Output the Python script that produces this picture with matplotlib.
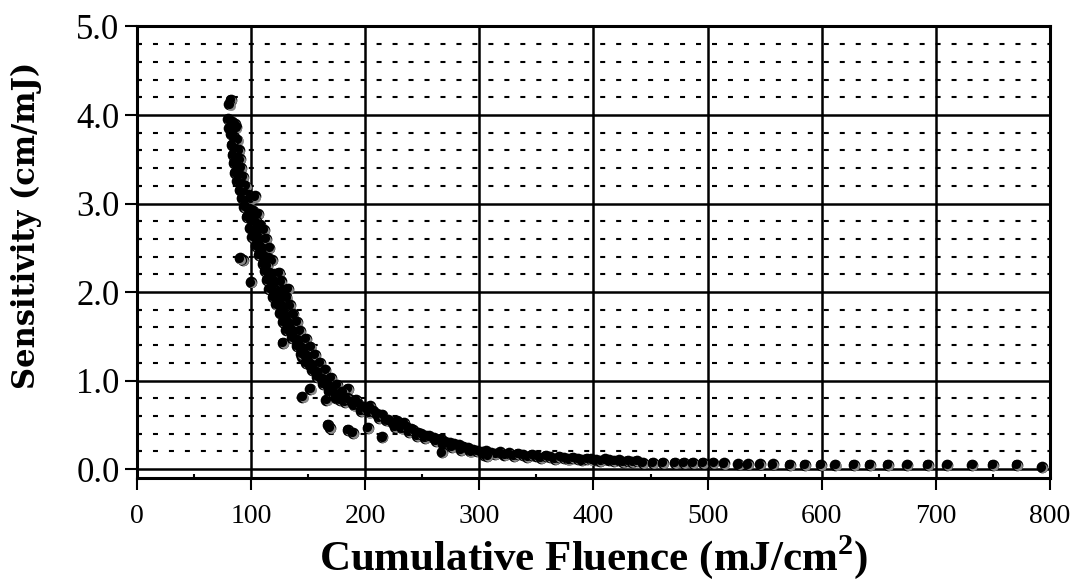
import matplotlib
matplotlib.use("Agg")
import matplotlib.pyplot as plt
from matplotlib.transforms import offset_copy
from matplotlib.ticker import MultipleLocator

# Cumulative fluence (mJ/cm^2) and sensitivity (cm/mJ)
fluence = [
    82, 81, 80, 83, 86, 81, 84, 87,
    82, 85, 88, 83, 86, 89, 84, 87, 90,
    85, 88, 91, 86, 89, 93, 88, 91, 95, 90, 93, 97,
    92, 96, 100, 103, 94, 98, 102, 106, 96, 100, 104, 108, 99, 103, 107, 111,
    101, 105, 109, 113, 104, 108, 112, 116, 93, 90, 107, 111, 115, 118, 110, 114,
    100, 112, 116, 120, 124, 114, 118, 122, 126, 116, 120, 124, 128, 132, 119, 123, 127, 131,
    122, 126, 130, 134, 125, 129, 133, 137, 128, 132, 136, 140, 131, 135, 139, 143, 128,
    136, 140, 144, 148, 140, 144, 148, 152, 145, 144, 148, 152, 156, 148, 152, 156, 160,
    153, 157, 161, 165,
    158, 162, 166, 170, 152, 145, 163, 167, 171, 175, 185, 166, 168, 172, 176, 180,
    174, 178, 182, 186, 167, 169, 185, 189,
    184, 188, 192, 190, 194, 198, 196, 200, 204, 203, 207, 210, 212, 215, 218, 202, 215,
    220, 224, 228, 226, 230, 234, 232, 236, 240, 238, 242, 246, 245, 249, 253, 252, 256, 260,
    262, 266, 270, 268, 274, 278, 276, 282, 286, 284, 290, 294, 292, 298, 302, 306, 304, 310,
    314, 318, 267, 307,
    322, 326, 330, 334, 338, 342, 346, 350, 354, 358, 362, 366, 370, 374, 378, 382, 386, 390,
    394, 398, 402, 406, 410, 414, 418, 422, 426, 430, 434, 438,
    443, 452, 461, 471, 479, 487, 496, 505, 514, 527, 535, 546, 557, 572, 585, 599, 612, 628,
    642, 658, 675, 693, 710, 732, 750, 771, 793,
]
sensitivity = [
    4.17, 4.12, 3.95, 3.92, 3.90, 3.85, 3.82, 3.86,
    3.78, 3.75, 3.72, 3.66, 3.62, 3.60, 3.55, 3.52, 3.50,
    3.46, 3.44, 3.40, 3.35, 3.32, 3.30, 3.26, 3.22, 3.20, 3.15, 3.12, 3.10,
    3.06, 3.03, 3.05, 3.08, 2.96, 2.94, 2.92, 2.88, 2.85, 2.82, 2.80, 2.76, 2.72, 2.70, 2.68, 2.70,
    2.62, 2.60, 2.58, 2.60, 2.52, 2.50, 2.48, 2.50, 2.36, 2.38, 2.42, 2.40, 2.38, 2.36, 2.32, 2.30,
    2.11, 2.24, 2.22, 2.20, 2.22, 2.14, 2.12, 2.10, 2.12, 2.04, 2.02, 2.00, 2.02, 2.04, 1.95, 1.93, 1.92, 1.94,
    1.86, 1.84, 1.82, 1.85, 1.76, 1.74, 1.72, 1.75, 1.66, 1.64, 1.62, 1.66, 1.57, 1.55, 1.53, 1.56, 1.43,
    1.48, 1.46, 1.44, 1.47, 1.39, 1.37, 1.35, 1.38, 1.27, 1.30, 1.28, 1.26, 1.29, 1.20, 1.18, 1.16, 1.20,
    1.12, 1.10, 1.08, 1.12,
    1.04, 1.02, 1.00, 1.03, 0.91, 0.82, 0.96, 0.94, 0.92, 0.95, 0.91, 0.78, 0.88, 0.86, 0.84, 0.87,
    0.80, 0.78, 0.76, 0.79, 0.50, 0.47, 0.44, 0.41,
    0.80, 0.76, 0.78, 0.72, 0.74, 0.70, 0.66, 0.68, 0.71, 0.64, 0.66, 0.62, 0.58, 0.61, 0.56, 0.47, 0.36,
    0.55, 0.52, 0.54, 0.48, 0.50, 0.52, 0.46, 0.48, 0.45, 0.42, 0.44, 0.41, 0.38, 0.40, 0.38, 0.35, 0.37, 0.35,
    0.32, 0.34, 0.31, 0.28, 0.30, 0.28, 0.25, 0.27, 0.25, 0.22, 0.24, 0.22, 0.20, 0.21, 0.19, 0.20, 0.16, 0.18,
    0.17, 0.19, 0.19, 0.15,
    0.16, 0.18, 0.15, 0.17, 0.16, 0.14, 0.16, 0.15, 0.13, 0.15, 0.14, 0.12, 0.14, 0.13, 0.11, 0.13, 0.12, 0.10,
    0.12, 0.11, 0.10, 0.09, 0.11, 0.10, 0.09, 0.10, 0.08, 0.09, 0.08, 0.09,
    0.075, 0.075, 0.072, 0.07, 0.07, 0.07, 0.068, 0.068, 0.065, 0.055, 0.055, 0.055, 0.055, 0.052, 0.052,
    0.05, 0.05, 0.05, 0.048, 0.048, 0.048, 0.048, 0.046, 0.046, 0.045, 0.045, 0.02,
]

x_ticks = [0, 100, 200, 300, 400, 500, 600, 700, 800]
y_ticks = [0.0, 1.0, 2.0, 3.0, 4.0, 5.0]

plt.rcParams['lines.scale_dashes'] = False
plt.rcParams['mathtext.fontset'] = 'custom'
plt.rcParams['mathtext.bf'] = 'Liberation Serif:bold'
plt.rcParams['mathtext.rm'] = 'Liberation Serif'

fig = plt.figure(figsize=(10.83, 5.86), dpi=100)
ax = fig.add_axes([0.1265, 0.1843, 0.843, 0.7705])

# grid: solid majors, dashed horizontal minors
ax.set_axisbelow(True)
ax.yaxis.set_minor_locator(MultipleLocator(0.2))
ax.xaxis.set_minor_locator(MultipleLocator(50))
ax.grid(True, which='major', color='black', linewidth=1.8)
ax.grid(True, which='minor', axis='y', color='black', linewidth=1.5, dashes=(3.6, 7.9))

# shaded balls: black disc, grey crescent, black core
hl = offset_copy(ax.transData, fig=fig, x=0.8, y=-0.8, units='points')
core = offset_copy(ax.transData, fig=fig, x=-0.5, y=0.5, units='points')
for fx, s in zip(fluence, sensitivity):
    ax.plot(fx, s, 'o', ms=8.4, mfc='black', mec='black', mew=0, zorder=3)
    ax.plot(fx, s, 'o', ms=6.4, mfc='#8a8a8a', mew=0, transform=hl, zorder=3)
    ax.plot(fx, s, 'o', ms=6.6, mfc='black', mew=0, transform=core, zorder=3)

ax.set_xlim(0, 800)
ax.set_ylim(-0.1, 5.0)
ax.set_xticks(x_ticks)
ax.set_yticks(y_ticks)
ax.set_xticklabels([str(v) for v in x_ticks], fontfamily='Liberation Serif', fontsize=20)
ax.set_yticklabels([f"{v:.1f}" for v in y_ticks], fontfamily='Liberation Serif', fontsize=25)

for sp in ax.spines.values():
    sp.set_linewidth(2.2)
ax.tick_params(which='major', direction='out', length=8.5, width=1.5)
ax.tick_params(axis='x', which='major', pad=10)
ax.tick_params(axis='y', which='major', pad=4)
ax.tick_params(which='minor', direction='in', length=3, width=1.5)

fig.text(0.548, 0.049, "Cumulative Fluence (mJ/cm$^\\mathbf{2}$)", fontfamily='Liberation Serif',
         fontweight='bold', fontsize=31, ha='center', va='center')
fig.text(0.024, 0.616, "Sensitivity (cm/mJ)", fontfamily='DejaVu Serif', fontweight='bold',
         fontsize=22, rotation=90, ha='center', va='center')

fig.savefig("out.png", dpi=100)
